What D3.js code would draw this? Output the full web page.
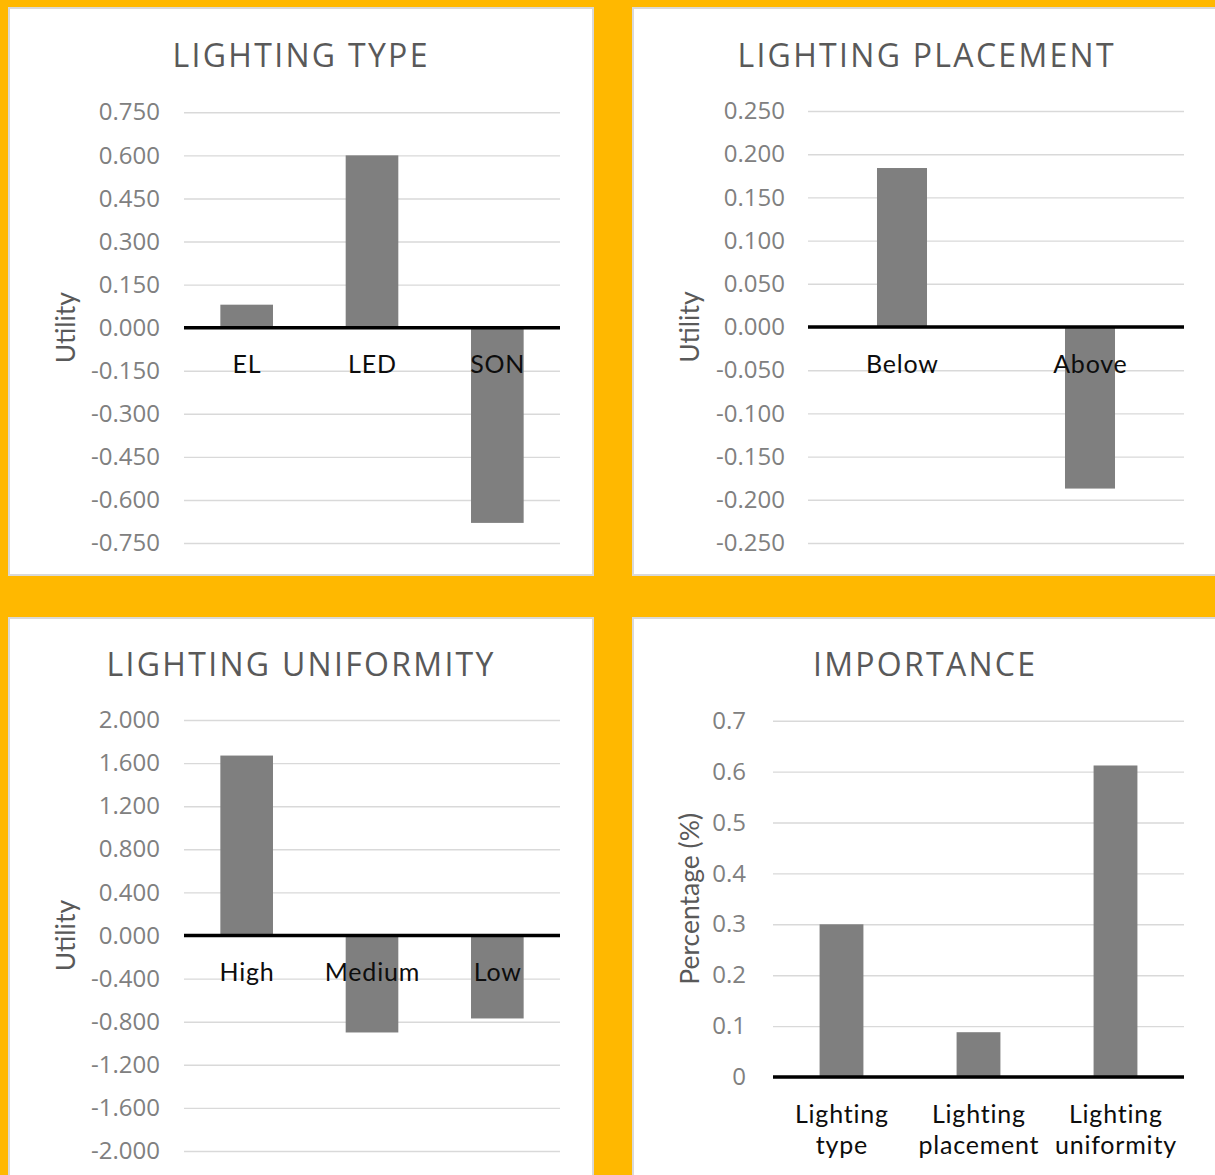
<!DOCTYPE html>
<html>
<head>
<meta charset="utf-8">
<script src="https://cdn.jsdelivr.net/npm/d3@7"></script>
<style>
  body { margin: 0; background: #FFB800; }
  svg { display: block; }
</style>
</head>
<body>
<svg id="chart" width="1215" height="1175"></svg>
<script>
// Part-worth utilities per attribute level
const typeCategories = ["EL", "LED", "SON"];
const typeUtility = [0.080, 0.600, -0.680];
const typeTicks = [0.75, 0.6, 0.45, 0.3, 0.15, 0, -0.15, -0.3, -0.45, -0.6, -0.75];

const placementCategories = ["Below", "Above"];
const placementUtility = [0.184, -0.187];
const placementTicks = [0.25, 0.2, 0.15, 0.1, 0.05, 0, -0.05, -0.1, -0.15, -0.2, -0.25];

const uniformityCategories = ["High", "Medium", "Low"];
const uniformityUtility = [1.670, -0.900, -0.770];
const uniformityTicks = [2, 1.6, 1.2, 0.8, 0.4, 0, -0.4, -0.8, -1.2, -1.6, -2];

// Relative importance of each attribute
const importanceCategories = ["Lighting type", "Lighting placement", "Lighting uniformity"];
const importanceValues = [0.300, 0.088, 0.612];
const importanceTicks = [0.7, 0.6, 0.5, 0.4, 0.3, 0.2, 0.1, 0];

const svg = d3.select("#chart");
const locale = d3.formatLocale({ decimal: ".", thousands: ",", grouping: [3], currency: ["", ""], minus: "-" });

const TITLE_FONT = "'Open Sans', 'Noto Sans', sans-serif";
const TICK_FONT = "'Open Sans', 'Noto Sans', sans-serif";
const LABEL_FONT = "Lato, 'Liberation Sans', sans-serif";

function drawPanel(cfg) {
  const g = svg.append("g");

  g.append("rect")
    .attr("x", cfg.box[0]).attr("y", cfg.box[1])
    .attr("width", cfg.box[2]).attr("height", cfg.box[3])
    .attr("fill", "#ffffff")
    .attr("stroke", "#d9d9d9")
    .attr("stroke-width", 2);

  const title = g.append("text")
    .attr("y", cfg.titleY)
    .attr("text-anchor", "middle")
    .attr("font-family", TITLE_FONT)
    .attr("font-size", 32)
    .attr("letter-spacing", 2.3)
    .attr("fill", "#595959")
    .text(cfg.title);
  // letter-spacing leaves a trailing gap; shift by half of it to keep the title centred
  title.attr("x", cfg.titleX + 1.15);

  const x = d3.scaleBand()
    .domain(cfg.categories)
    .range([cfg.left, cfg.right])
    .paddingInner(1 - cfg.barFrac)
    .paddingOuter((1 - cfg.barFrac) / 2);

  const y = d3.scaleLinear()
    .domain(d3.extent(cfg.ticks))
    .range([cfg.bottom, cfg.top]);

  const axis = g.append("g")
    .attr("transform", `translate(${cfg.left},0)`)
    .call(d3.axisLeft(y)
      .tickValues(cfg.ticks)
      .tickSize(-(cfg.right - cfg.left))
      .tickPadding(cfg.tickPad)
      .tickFormat(locale.format(cfg.fmt)));
  axis.select(".domain").remove();
  axis.selectAll(".tick line").attr("stroke", "#d9d9d9").attr("stroke-width", 1.4);
  axis.selectAll(".tick text")
    .attr("font-family", TICK_FONT)
    .attr("font-size", 24)
    .attr("fill", "#808080");

  g.append("text")
    .attr("transform", `translate(${cfg.axisTitleX},${(cfg.top + cfg.bottom) / 2}) rotate(-90)`)
    .attr("text-anchor", "middle")
    .attr("font-family", LABEL_FONT)
    .attr("font-size", 26.5)
    .attr("fill", "#595959")
    .text(cfg.axisTitle);

  const data = cfg.categories.map((c, i) => ({ c, v: cfg.values[i] }));
  g.selectAll("rect.bar").data(data).join("rect")
    .attr("class", "bar")
    .attr("x", d => x(d.c))
    .attr("width", x.bandwidth())
    .attr("y", d => y(Math.max(0, d.v)))
    .attr("height", d => Math.abs(y(d.v) - y(0)))
    .attr("fill", "#7f7f7f");

  g.append("line")
    .attr("x1", cfg.left).attr("x2", cfg.right)
    .attr("y1", y(0)).attr("y2", y(0))
    .attr("stroke", "#000")
    .attr("stroke-width", 3.5);

  const labels = g.selectAll("text.cat").data(data).join("text")
    .attr("class", "cat")
    .attr("x", d => x(d.c) + x.bandwidth() / 2)
    .attr("y", y(0) + 45.5)
    .attr("text-anchor", "middle")
    .attr("font-family", LABEL_FONT)
    .attr("font-size", 25)
    .attr("letter-spacing", 0.8)
    .attr("fill", "#0d0d0d");
  labels.each(function (d) {
    const t = d3.select(this);
    const lines = cfg.wrap ? d.c.split(" ") : [d.c];
    lines.forEach((ln, i) => {
      t.append("tspan")
        .attr("x", x(d.c) + x.bandwidth() / 2 + 0.4)
        .attr("dy", i === 0 ? 0 : 31)
        .text(ln);
    });
  });
}

drawPanel({
  box: [9, 8, 584, 567],
  title: "LIGHTING TYPE", titleX: 300, titleY: 67,
  categories: typeCategories, values: typeUtility, ticks: typeTicks, fmt: ".3f",
  left: 184, right: 560, top: 112.3, bottom: 543, barFrac: 0.42, tickPad: 24,
  axisTitle: "Utility", axisTitleX: 75
});

drawPanel({
  box: [633, 8, 600, 567],
  title: "LIGHTING PLACEMENT", titleX: 925.5, titleY: 67,
  categories: placementCategories, values: placementUtility, ticks: placementTicks, fmt: ".3f",
  left: 808, right: 1184, top: 111, bottom: 543, barFrac: 0.266, tickPad: 23,
  axisTitle: "Utility", axisTitleX: 699
});

drawPanel({
  box: [9, 618, 584, 600],
  title: "LIGHTING UNIFORMITY", titleX: 300, titleY: 676,
  categories: uniformityCategories, values: uniformityUtility, ticks: uniformityTicks, fmt: ".3f",
  left: 184, right: 560, top: 720, bottom: 1151, barFrac: 0.42, tickPad: 24,
  axisTitle: "Utility", axisTitleX: 75
});

drawPanel({
  box: [633, 618, 600, 600],
  title: "IMPORTANCE", titleX: 924, titleY: 676,
  categories: importanceCategories, values: importanceValues, ticks: importanceTicks, fmt: ".1~f",
  left: 773, right: 1184, top: 720.7, bottom: 1077, barFrac: 0.32, tickPad: 27,
  axisTitle: "Percentage (%)", axisTitleX: 699, wrap: true
});
</script>
</body>
</html>
